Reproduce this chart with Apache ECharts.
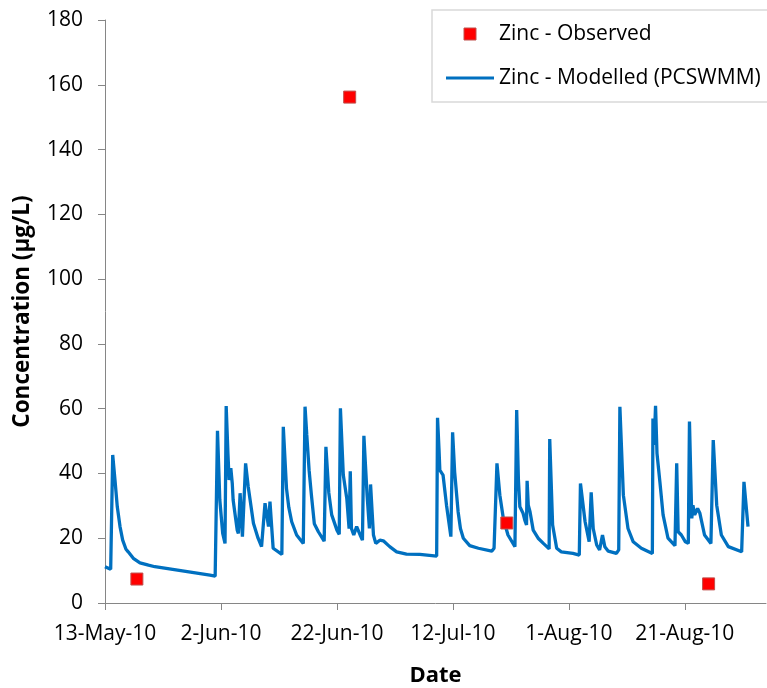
<!DOCTYPE html>
<html>
<head>
<meta charset="utf-8">
<script src="https://cdn.jsdelivr.net/npm/echarts@6/dist/echarts.min.js"></script>
<style>
html,body{margin:0;padding:0;background:#fff;}
#chart{width:767px;height:688px;}
</style>
</head>
<body>
<div id="chart"></div>
<script>
// x values are days since 13-May-2010
var startDate = Date.UTC(2010, 4, 13);
var xTickInterval = 20;
var yTicks = [0, 20, 40, 60, 80, 100, 120, 140, 160, 180];

var observedDays = [5.5, 42.2, 69.3, 104.1];
var observedZinc = [7.4, 156.2, 24.7, 5.9];

var modelDays = [
  0, 0.98, 1.33, 1.72, 2.12, 2.59, 3.05, 3.62, 4.0, 4.88, 6.03, 7.5, 8.6, 18.1, 19.0,
  19.4, 19.8, 20.3, 20.7, 20.9, 21.2, 21.4, 21.7, 21.95, 22.1, 22.8, 23.0, 23.3, 23.7,
  24.25, 24.7, 25.6, 26.4, 27.0, 27.6, 27.9, 28.2, 28.45, 29.0, 30.5,
  30.75, 31.3, 31.7, 32.2, 33.05, 34.2,
  34.5, 34.8, 35.2, 35.6, 36.1, 36.8, 37.8, 38.1, 38.6, 39.1, 40.0, 40.4, 40.6, 41.1, 41.7, 42.1,
  42.3, 42.5, 42.9, 43.4, 44.0, 44.4, 44.65, 45.2, 45.6, 45.8, 46.3, 46.7, 47.4, 48.0,
  49.1, 50.3, 52.0, 54.3, 57.2, 57.35, 57.6, 57.75, 58.3, 58.9, 59.65, 59.95, 60.3, 60.9,
  61.3, 61.8, 62.9, 64.4, 66.7, 67.1, 67.6, 68.1, 68.7, 69.5, 70.7, 71.0, 71.3, 71.55, 72.1, 72.4,
  72.7, 72.8, 73.0, 73.3, 73.85, 74.7, 75.6, 76.6, 76.7, 77.2, 77.9, 78.7, 80.7, 81.8,
  82.0, 82.8, 83.5, 83.85, 84.2, 84.8, 85.3, 85.8, 86.2, 86.8, 88.2, 88.6, 88.8, 89.4,
  90.2, 91.1, 92.5, 94.4, 94.5, 94.7, 94.95, 95.2, 95.7, 96.25, 97.1, 98.3, 98.6, 98.85,
  99.4, 100.1, 100.6, 100.8, 101.2, 101.4, 101.7, 102.2, 102.6, 103.4, 104.5, 104.9, 105.5,
  106.3, 107.5, 109.8, 110.2, 110.9
];
var modelZinc = [
  11.2, 10.4, 45.7, 38.0, 29.7, 23.6, 19.4, 16.6, 15.8, 13.8, 12.4, 11.7, 11.2, 8.6, 8.3,
  53.2, 31.8, 21.5, 18.4, 60.8, 46.2, 38.0, 41.6, 36.9, 31.8, 22.5, 21.5, 33.9, 20.5,
  43.1, 35.9, 24.6, 20.0, 17.4, 30.8, 31.1, 23.6, 31.3, 16.9, 15.0,
  54.4, 35.4, 29.5, 25.1, 21.0, 18.4,
  60.6, 51.9, 41.0, 33.3, 24.5, 22.0, 19.1, 48.2, 34.0, 27.2, 22.5, 21.2, 60.1, 39.5, 32.3, 23.0,
  40.7, 23.0, 21.0, 23.6, 21.0, 19.4, 51.6, 33.3, 23.0, 36.6, 21.0, 18.4, 19.4, 19.2,
  17.4, 15.8, 15.1, 15.0, 14.5, 57.2, 47.7, 41.0, 39.5, 30.2, 20.5, 52.7, 40.5, 28.2,
  23.0, 20.0, 17.7, 16.9, 16.0, 16.9, 43.1, 33.3, 26.1, 21.0, 17.4, 59.6, 38.0, 29.7, 27.7, 25.6,
  24.1, 37.7, 30.2, 28.2, 22.5, 20.0, 18.4, 16.7, 50.6, 24.1, 16.9, 15.8, 15.3, 14.8,
  36.9, 25.1, 18.9, 34.2, 23.0, 17.9, 16.4, 21.0, 17.4, 16.0, 15.3, 16.4, 60.6, 33.3,
  23.0, 18.9, 16.9, 15.3, 57.0, 48.8, 60.9, 46.2, 37.4, 27.2, 20.0, 17.7, 43.1, 22.0,
  21.0, 18.9, 18.4, 56.0, 26.1, 30.2, 27.2, 29.2, 27.7, 21.0, 18.4, 50.3, 30.2,
  21.0, 17.4, 15.8, 37.4, 23.6
];

var MONTHS = ['Jan','Feb','Mar','Apr','May','Jun','Jul','Aug','Sep','Oct','Nov','Dec'];
function dayLabel(v) {
  if (Math.abs(v % xTickInterval) > 1e-6) return '';
  var d = new Date(startDate + v * 86400000);
  return d.getUTCDate() + '-' + MONTHS[d.getUTCMonth()] + '-' + String(d.getUTCFullYear()).slice(2);
}

var FONT = '"Open Sans", sans-serif';
var chart = echarts.init(document.getElementById('chart'), null, {renderer: 'canvas'});
chart.setOption({
  animation: false,
  backgroundColor: '#ffffff',
  textStyle: {fontFamily: FONT},
  grid: {left: 105, right: 1, top: 20, bottom: 85, containLabel: false, outerBoundsMode: 'none'},
  legend: {
    orient: 'vertical',
    left: 432, top: 10,
    padding: [12, 14, 12, 14],
    borderColor: '#d9d9d9', borderWidth: 1.5,
    itemWidth: 48, itemHeight: 12, itemGap: 20,
    symbolKeepAspect: true,
    textStyle: {fontFamily: FONT, fontSize: 21, color: '#000', lineHeight: 24},
    data: [
      {name: 'Zinc - Observed', icon: 'path://M0,0H10V10H0Z',
       itemStyle: {color: '#ff0000', borderColor: '#c0504d', borderWidth: 1}},
      {name: 'Zinc - Modelled (PCSWMM)', icon: 'path://M0,0H48V3H0Z',
       itemStyle: {color: '#0070c0', borderWidth: 0}}
    ]
  },
  xAxis: {
    type: 'value', min: 0, max: 114, interval: xTickInterval,
    name: 'Date', nameLocation: 'middle', nameGap: 62,
    nameTextStyle: {fontFamily: FONT, fontSize: 22, fontWeight: 'bold', color: '#000'},
    axisLine: {show: true, lineStyle: {color: '#868686', width: 1}},
    axisTick: {show: true, length: 7, lineStyle: {color: '#868686'}},
    axisLabel: {formatter: dayLabel, fontSize: 21, color: '#000', margin: 21, showMaxLabel: false},
    splitLine: {show: false}
  },
  yAxis: {
    type: 'value', min: yTicks[0], max: yTicks[yTicks.length - 1], interval: 20,
    name: 'Concentration (µg/L)', nameLocation: 'middle', nameGap: 71,
    nameTextStyle: {fontFamily: FONT, fontSize: 22.5, fontWeight: 'bold', color: '#000'},
    axisLine: {show: true, lineStyle: {color: '#868686', width: 1}},
    axisTick: {show: true, length: 7, lineStyle: {color: '#868686'}},
    axisLabel: {fontSize: 21, color: '#000', margin: 22},
    splitLine: {show: false}
  },
  series: [
    {
      name: 'Zinc - Observed', type: 'scatter', z: 3,
      symbol: 'rect', symbolSize: 12,
      itemStyle: {color: '#ff0000', borderColor: '#c0504d', borderWidth: 1, opacity: 1},
      data: observedDays.map(function (d, i) { return [d, observedZinc[i]]; })
    },
    {
      name: 'Zinc - Modelled (PCSWMM)', type: 'line', z: 2,
      symbol: 'none', showSymbol: false,
      lineStyle: {color: '#0070c0', width: 3.3},
      itemStyle: {color: '#0070c0'},
      data: modelDays.map(function (d, i) { return [d, modelZinc[i]]; })
    }
  ]
});
</script>
</body>
</html>
